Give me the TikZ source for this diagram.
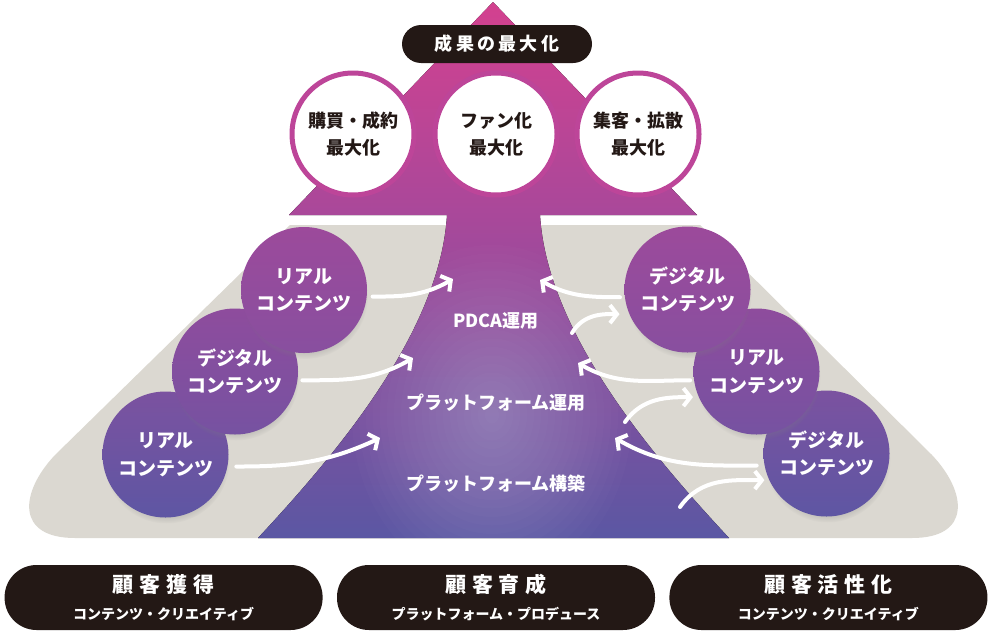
\documentclass[tikz,border=0pt]{standalone}
\usepackage{fontspec}
\setmainfont{Noto Sans CJK JP}
\usepackage{tikz}
\usetikzlibrary{positioning,arrows.meta,shadows}

\definecolor{apex}{HTML}{D3418F}
\definecolor{rim}{HTML}{A9489A}
\definecolor{base}{HTML}{5B57A3}
\definecolor{ground}{HTML}{DBD8D1}
\definecolor{ink}{HTML}{231815}
\definecolor{ring}{HTML}{BD4599}
\definecolor{hiA}{HTML}{9C4A9B}
\definecolor{loA}{HTML}{884F9F}
\definecolor{hiB}{HTML}{8E4C9D}
\definecolor{loB}{HTML}{7652A1}
\definecolor{hiC}{HTML}{7B52A0}
\definecolor{loC}{HTML}{5E56A3}

\begin{document}
\begin{tikzpicture}[
  x=1pt,y=-1pt,
  goal/.style={circle,draw=ring,line width=5pt,fill=white,minimum size=122pt,
               inner sep=0pt,outer sep=0pt,align=center,text=ink,
               font=\fontsize{18}{27}\selectfont\bfseries},
  content/.style 2 args={circle,minimum size=126pt,inner sep=0pt,outer sep=0pt,
               top color=#1,bottom color=#2,align=center,text=white,
               font=\fontsize{19}{27.5}\selectfont\bfseries,
               circular drop shadow={shadow xshift=1pt,shadow yshift=-6pt,
                                     shadow scale=1,opacity=.35}},
  pill/.style={fill=ink,text=white,rounded corners=32pt,minimum width=318pt,
               minimum height=65pt,inner sep=0pt,align=center,
               font=\fontsize{14}{27}\selectfont\bfseries},
  stage/.style={text=white,font=\fontsize{18}{20}\selectfont\bfseries},
  flow/.style={-{Straight Barb[length=7pt,width=18pt]},line width=4pt,white,
               line cap=round}
]
\useasboundingbox (0,0) rectangle (992,632);

% pyramid top
\fill[top color=apex,bottom color=rim] (493,2) -- (697,215) -- (289,215) -- cycle;

% grey ground
\fill[ground] (290,225) -- (700,225) -- (932,455)
  .. controls (967,492) and (972,538) .. (912,538) -- (75,538)
  .. controls (15,538) and (20,492) .. (55,455) -- cycle;

% trunk with soft glow
\fill[top color=rim,bottom color=base,
      path picture={\foreach \r in {1,...,20}
        \fill[white,opacity=.017] (492,415) ellipse [x radius=7*\r pt,y radius=8.5*\r pt];}]
  (447,215) -- (540,215) .. controls (547,330) and (647,450) .. (729,538)
  -- (258,538) .. controls (340,450) and (440,330) .. (447,215) -- cycle;

\node[fill=ink,text=white,rounded corners=19pt,minimum width=190pt,minimum height=38pt,
      font=\fontsize{18}{20}\selectfont\bfseries\addfontfeature{LetterSpace=18}]
  (result) at (497,44) {成果の最大化};

\node[goal] (fan) at (496,134) {ファン化\\最大化};
\node[goal,left=21pt of fan] (purchase) {購買・成約\\最大化};
\node[goal,right=20pt of fan] (attract) {集客・拡散\\最大化};

% contents, left
\node[content={hiC}{loC}] (lreal2) at (165.5,454.5) {リアル\\コンテンツ};
\node[content={hiB}{loB}] (ldigital) at (235,371.5) {デジタル\\コンテンツ};
\node[content={hiA}{loA}] (lreal1) at (304,290) {リアル\\コンテンツ};
% contents, right
\node[content={hiC}{loC}] (rdigital2) at (826.5,453.5) {デジタル\\コンテンツ};
\node[content={hiB}{loB}] (rreal) at (756.5,371.5) {リアル\\コンテンツ};
\node[content={hiA}{loA}] (rdigital1) at (687.5,289.5) {デジタル\\コンテンツ};

\node[stage] (pdca) at (496,321) {PDCA運用};
\node[stage] (platop) at (496,403) {プラットフォーム運用};
\node[stage] (platbuild) at (496,484) {プラットフォーム構築};

\coordinate (pl1) at (453,279);
\coordinate (pl2) at (413,358);
\coordinate (pl3) at (380,438);
\coordinate (pr1o) at (540,280);
\coordinate (pr1i) at (572,333);
\coordinate (pr2o) at (578,363);
\coordinate (pr2i) at (625,422);
\coordinate (pr3o) at (615,438);
\coordinate (pr3i) at (680,507);

\draw[flow,shorten <=6pt] (lreal1.-6) to[out=0,in=210] (pl1);
\draw[flow,shorten <=5pt] (ldigital.-8) to[out=0,in=210] (pl2);
\draw[flow,shorten <=9pt] (lreal2.-11) to[out=0,in=205] (pl3);

\draw[flow,shorten <=5pt] (rdigital1.187) to[out=180,in=-30] (pr1o);
\draw[flow,shorten >=10pt] (pr1i) to[out=60,in=180] (rdigital1.203);
\draw[flow,shorten <=4pt] (rreal.188) to[out=180,in=-30] (pr2o);
\draw[flow,shorten >=6pt] (pr2i) to[out=55,in=180] (rreal.204);
\draw[flow,shorten <=8pt] (rdigital2.191) to[out=180,in=-30] (pr3o);
\draw[flow,shorten >=5pt] (pr3i) to[out=55,in=180] (rdigital2.205);

% bottom labels
\node[pill] (nurture) at (496,597.5)
  {{\fontsize{21}{26}\selectfont\addfontfeature{LetterSpace=28}顧客育成}\\プラットフォーム・プロデュース};
\node[pill,left=14pt of nurture] (acquire)
  {{\fontsize{21}{26}\selectfont\addfontfeature{LetterSpace=28}顧客獲得}\\コンテンツ・クリエイティブ};
\node[pill,right=14pt of nurture] (activate)
  {{\fontsize{21}{26}\selectfont\addfontfeature{LetterSpace=28}顧客活性化}\\コンテンツ・クリエイティブ};
\end{tikzpicture}
\end{document}
